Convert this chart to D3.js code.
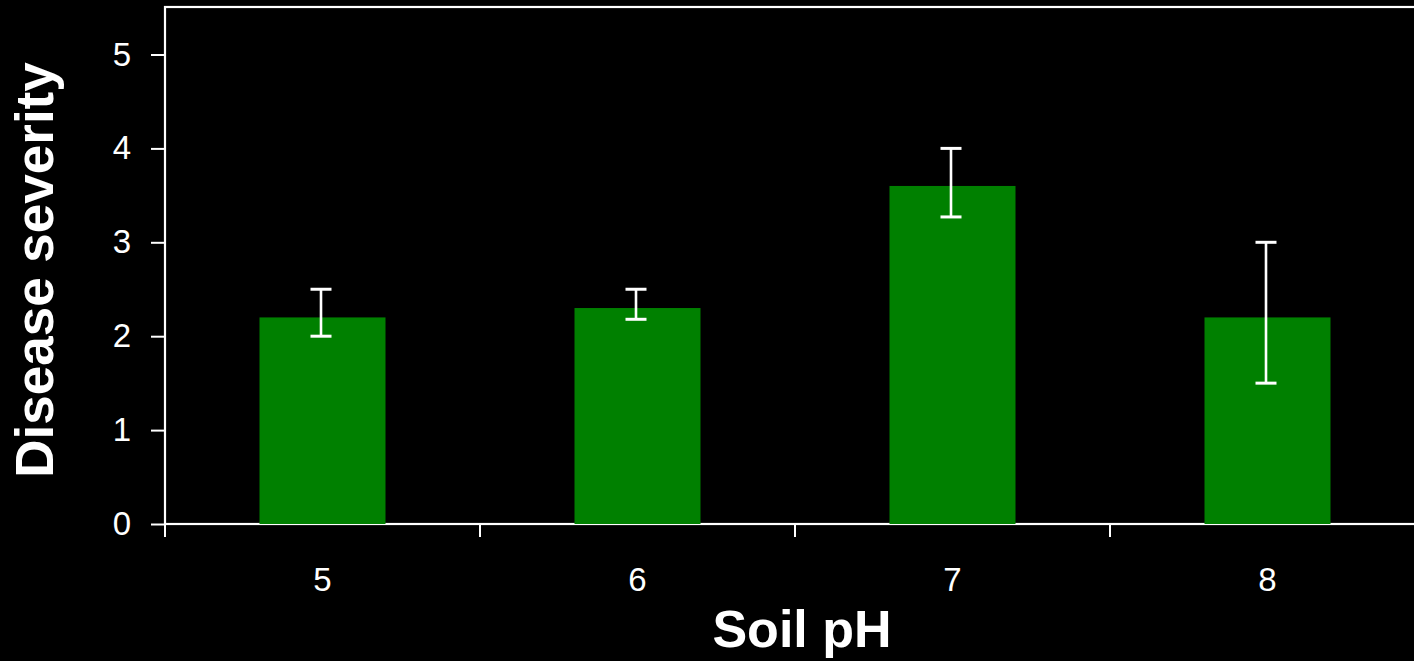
<!DOCTYPE html>
<html>
<head>
<meta charset="utf-8">
<script src="https://cdn.jsdelivr.net/npm/d3@7"></script>
<style>
  html, body { margin: 0; padding: 0; background: #000; }
  svg { display: block; }
  text { font-family: "Liberation Sans", Arial, sans-serif; fill: #fff; }
</style>
</head>
<body>
<svg id="chart" width="1414" height="661"></svg>
<script>
// Soil pH vs. disease severity (mean with asymmetric error bars)
const categories = ["5", "6", "7", "8"];
const severity   = [2.2, 2.3, 3.6, 2.2];
const errLow     = [2.0, 2.18, 3.27, 1.5];
const errHigh    = [2.5, 2.5, 4.0, 3.0];
const yTicks     = [0, 1, 2, 3, 4, 5];

const svg = d3.select("#chart");
const plotLeft = 165, plotRight = 1425, plotTop = 7, plotBottom = 524;

const y = d3.scaleLinear().domain([0, 5]).range([plotBottom, 54.5]);
const xBand = d3.scaleBand().domain(categories).range([plotLeft, plotRight])
  .paddingInner(0.6).paddingOuter(0.3);
const xCell = d3.scaleBand().domain(categories).range([plotLeft, plotRight]).padding(0);

// plot frame (extends past the right edge of the view)
svg.append("rect")
  .attr("x", plotLeft).attr("y", plotTop)
  .attr("width", plotRight - plotLeft + 20).attr("height", plotBottom - plotTop)
  .attr("fill", "none").attr("stroke", "#fff").attr("stroke-width", 2.2);

// bars
svg.append("g").selectAll("rect")
  .data(categories)
  .join("rect")
  .attr("x", d => xBand(d))
  .attr("width", xBand.bandwidth())
  .attr("y", (d, i) => y(severity[i]))
  .attr("height", (d, i) => y(0) - y(severity[i]))
  .attr("fill", "#008000");

// error bars
const eb = svg.append("g").attr("stroke", "#fff").attr("stroke-width", 2.6);
categories.forEach((c, i) => {
  const cx = xBand(c) + xBand.bandwidth() / 2 - 1.5;
  eb.append("line").attr("x1", cx).attr("x2", cx)
    .attr("y1", y(errLow[i])).attr("y2", y(errHigh[i]));
  [errLow[i], errHigh[i]].forEach(v => {
    eb.append("line").attr("x1", cx - 10.5).attr("x2", cx + 10.5)
      .attr("y1", y(v)).attr("y2", y(v)).attr("stroke-width", 3);
  });
});

// y axis
const yAxis = svg.append("g")
  .attr("transform", `translate(${plotLeft},0)`)
  .call(d3.axisLeft(y).tickValues(yTicks).tickSize(14).tickPadding(20).tickFormat(d3.format("d")));
yAxis.select(".domain").remove();
yAxis.selectAll("line").attr("stroke", "#fff").attr("stroke-width", 2);
yAxis.selectAll("text").attr("fill", "#fff").style("font-size", "33px")
  .style("font-family", "'Liberation Sans', Arial, sans-serif");

// x axis: labels at category centres, ticks at category boundaries
const xAxis = svg.append("g")
  .attr("transform", `translate(0,${plotBottom})`)
  .call(d3.axisBottom(xBand).tickSize(0).tickPadding(44));
xAxis.select(".domain").remove();
xAxis.selectAll("text").attr("fill", "#fff").style("font-size", "33px")
  .style("font-family", "'Liberation Sans', Arial, sans-serif");

svg.append("g").selectAll("line")
  .data(categories)
  .join("line")
  .attr("x1", d => xCell(d)).attr("x2", d => xCell(d))
  .attr("y1", plotBottom).attr("y2", plotBottom + 13)
  .attr("stroke", "#fff").attr("stroke-width", 2);

// axis titles
svg.append("text")
  .attr("x", 802).attr("y", 647)
  .attr("text-anchor", "middle")
  .style("font-size", "52px").style("font-weight", "bold")
  .text("Soil pH");

svg.append("text")
  .attr("transform", "translate(53,270) rotate(-90)")
  .attr("text-anchor", "middle")
  .style("font-size", "53px").style("font-weight", "bold")
  .text("Disease severity");
</script>
</body>
</html>
